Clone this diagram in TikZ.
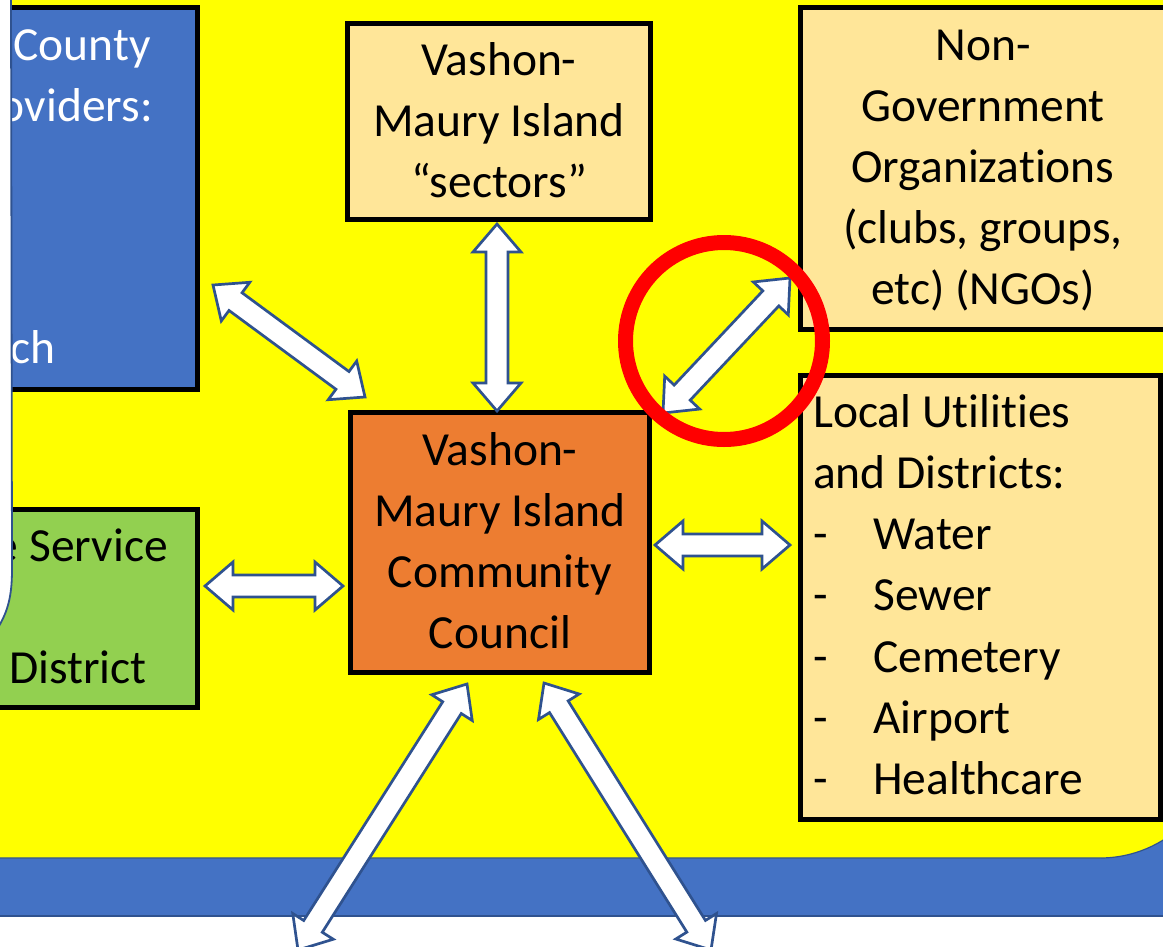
\documentclass[tikz,border=0pt]{standalone}
\usepackage{fontspec}
\setmainfont{Carlito}[Ligatures=NoCommon]
\usetikzlibrary{calc}
\definecolor{yel}{HTML}{FFFF00}
\definecolor{bandblue}{HTML}{4472C4}
\definecolor{edgeblue}{HTML}{2F528F}
\definecolor{lightbox}{HTML}{FFE699}
\definecolor{orangebox}{HTML}{ED7D31}
\definecolor{greenbox}{HTML}{92D050}
\definecolor{ringred}{HTML}{FF0000}

\tikzset{
  boxstyle/.style={draw=black, line width=5pt, inner sep=0pt},
  txt/.style={font=\fontsize{47.5}{61.3}\selectfont, inner sep=0pt},
  blockarrow/.style={draw=edgeblue, fill=white, line width=2.7pt, line join=miter},
}

\newcommand\dblarrow[2]{%
  \draw[blockarrow] let \p1=(#1), \p2=(#2),
    \n1={atan2(\y2-\y1,\x2-\x1)} in
    (\p1) -- ($(\p1)+(\n1:28pt)+(\n1+90:24pt)$)
    -- ($(\p1)+(\n1:28pt)+(\n1+90:11pt)$)
    -- ($(\p2)+(\n1+180:28pt)+(\n1+90:11pt)$)
    -- ($(\p2)+(\n1+180:28pt)+(\n1+90:24pt)$)
    -- (\p2)
    -- ($(\p2)+(\n1+180:28pt)+(\n1-90:24pt)$)
    -- ($(\p2)+(\n1+180:28pt)+(\n1-90:11pt)$)
    -- ($(\p1)+(\n1:28pt)+(\n1-90:11pt)$)
    -- ($(\p1)+(\n1:28pt)+(\n1-90:24pt)$)
    -- cycle;}

\begin{document}
\begin{tikzpicture}[x=1pt, y=-1pt]
\useasboundingbox (0,0) rectangle (1163,946);
\fill[white] (0,0) rectangle (1163,946);

% blue band and yellow field
\draw[fill=bandblue, draw=edgeblue, line width=1.5pt] (-10,700) rectangle (1175,916);
\draw[fill=yel, draw=edgeblue, line width=1.2pt, rounded corners=120pt] (-400,-400) rectangle (1220,858);

% boxes
\node[boxstyle, fill=lightbox, minimum width=303pt, minimum height=196pt] (sectors) at (499,121.5) {};
\node[boxstyle, fill=orangebox, minimum width=299pt, minimum height=260pt] (council) at (500,542.5) {};
\node[boxstyle, fill=lightbox, minimum width=365pt, minimum height=322pt] (ngo) at (983,168.5) {};
\node[boxstyle, fill=lightbox, minimum width=360pt, minimum height=444pt] (util) at (980.5,597.5) {};
\node[boxstyle, fill=bandblue, minimum width=217.5pt, minimum height=382pt] (county) at (88.75,198.5) {};
\node[boxstyle, fill=greenbox, minimum width=217.5pt, minimum height=198pt] (fire) at (88.75,608.5) {};

% texts
\foreach \t [count=\i] in {Vashon-, Maury Island, “sectors”}
  \node[txt, anchor=base] (st\i) at (499,{75+61.3*(\i-1)}) {\t};
\foreach \t [count=\i] in {Vashon-, Maury Island, Community, Council}
  \node[txt, anchor=base] (ct\i) at (500,{465+61.3*(\i-1)}) {\t};
\foreach \t [count=\i] in {Non-, Government, Organizations, {(clubs, groups,}, etc) (NGOs)}
  \node[txt, anchor=base] (nt\i) at (983,{60+61.0*(\i-1)}) {\t};
\foreach \t [count=\i] in {Local Utilities, and Districts:, \makebox[60pt][l]{-}Water,
  \makebox[60pt][l]{-}Sewer, \makebox[60pt][l]{-}Cemetery, \makebox[60pt][l]{-}Airport,
  \makebox[60pt][l]{-}Healthcare}
  \node[txt, anchor=base west] (ut\i) at (813,{427+61.3*(\i-1)}) {\t};
\node[txt, text=white, anchor=base east] (cy1) at (151,60) {County};
\node[txt, text=white, anchor=base east] (cy2) at (153,121) {oviders:};
\node[txt, text=white, anchor=base west] (cy3) at (10,363) {ch};
\node[txt, anchor=base east] (fd1) at (168,561) {e Service};
\node[txt, anchor=base west] (fd2) at (9,683) {District};

% connector end points
\coordinate (a1) at (497,224);  \coordinate (a2) at (497,411);
\coordinate (b1) at (213,285);  \coordinate (b2) at (365,397);
\coordinate (c1) at (790,278);  \coordinate (c2) at (663,413);
\coordinate (d1) at (655,545);  \coordinate (d2) at (790,545);
\coordinate (e1) at (205,586);  \coordinate (e2) at (343,586);
\coordinate (f1) at (467,684);  \coordinate (f2) at (298,950);
\coordinate (g1) at (544,683);  \coordinate (g2) at (711,950);

\dblarrow{a1}{a2}
\dblarrow{b1}{b2}
\dblarrow{c1}{c2}
\dblarrow{d1}{d2}
\dblarrow{e1}{e2}
\dblarrow{f1}{f2}
\dblarrow{g1}{g2}

% white callout on the left
\draw[fill=white, draw=edgeblue, line width=1.8pt]
  (-20,-20) -- (11,-20) -- (12,570) .. controls (12,598) and (7,612) .. (-1,626) -- (-20,660) -- cycle;

% red ring
\node[draw=ringred, circle, line width=15pt, minimum size=197pt, inner sep=0pt] (ring) at (724,341) {};
\end{tikzpicture}
\end{document}
